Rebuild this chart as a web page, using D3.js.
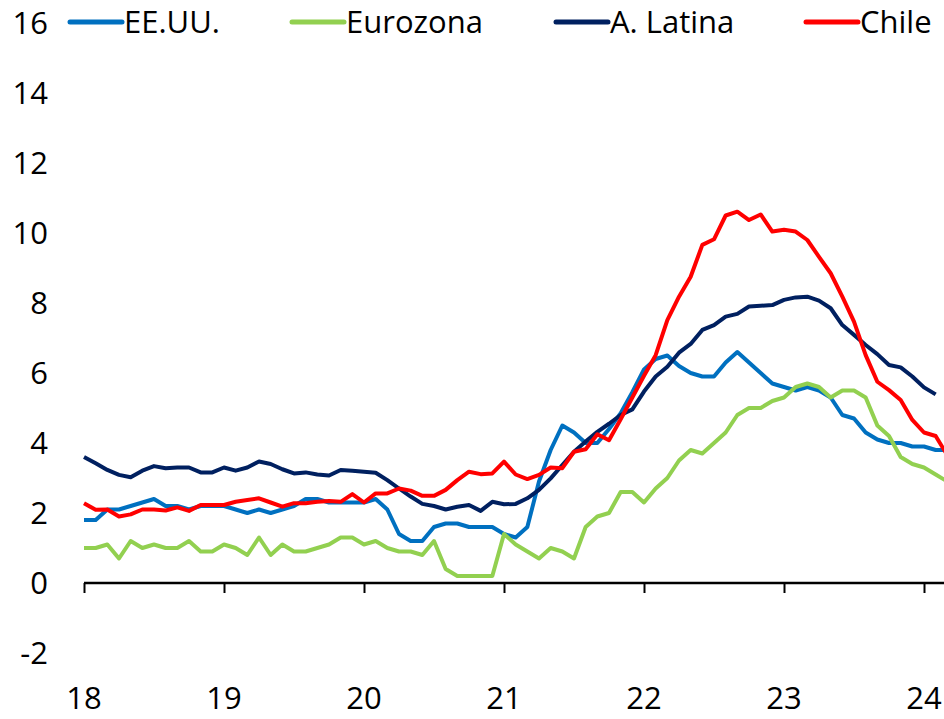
<!DOCTYPE html>
<html>
<head>
<meta charset="utf-8">
<script src="https://cdn.jsdelivr.net/npm/d3@7"></script>
<style>
  body { margin: 0; background: #fff; }
  svg text { font-family: "Open Sans", "Noto Sans", sans-serif; fill: #000; }
</style>
</head>
<body>
<div id="chart"></div>
<script>
// monthly, Jan 2018 = month 0
var yearLabels = ["18", "19", "20", "21", "22", "23", "24"];
var yTicks = [-2, 0, 2, 4, 6, 8, 10, 12, 14, 16];

var eeuu = [
  1.8, 1.8, 2.1, 2.1, 2.2, 2.3, 2.4, 2.2, 2.2, 2.1, 2.2, 2.2,
  2.2, 2.1, 2.0, 2.1, 2.0, 2.1, 2.2, 2.4, 2.4, 2.3, 2.3, 2.3,
  2.3, 2.4, 2.1, 1.4, 1.2, 1.2, 1.6, 1.7, 1.7, 1.6, 1.6, 1.6,
  1.4, 1.3, 1.6, 2.9, 3.8, 4.5, 4.3, 4.0, 4.0, 4.4, 4.85, 5.45,
  6.1, 6.4, 6.5, 6.2, 6.0, 5.9, 5.9, 6.3, 6.6, 6.3, 6.0, 5.7,
  5.6, 5.5, 5.6, 5.5, 5.3, 4.8, 4.7, 4.3, 4.1, 4.0, 4.0, 3.9,
  3.9, 3.8, 3.8
];
var eurozona = [
  1.0, 1.0, 1.1, 0.7, 1.2, 1.0, 1.1, 1.0, 1.0, 1.2, 0.9, 0.9,
  1.1, 1.0, 0.8, 1.3, 0.8, 1.1, 0.9, 0.9, 1.0, 1.1, 1.3, 1.3,
  1.1, 1.2, 1.0, 0.9, 0.9, 0.8, 1.2, 0.4, 0.2, 0.2, 0.2, 0.2,
  1.4, 1.1, 0.9, 0.7, 1.0, 0.9, 0.7, 1.6, 1.9, 2.0, 2.6, 2.6,
  2.3, 2.7, 3.0, 3.5, 3.8, 3.7, 4.0, 4.3, 4.8, 5.0, 5.0, 5.2,
  5.3, 5.6, 5.7, 5.6, 5.3, 5.5, 5.5, 5.3, 4.5, 4.2, 3.6, 3.4,
  3.3, 3.1, 2.9
];
var latina = [
  3.6, 3.42, 3.23, 3.09, 3.02, 3.21, 3.34, 3.28, 3.3, 3.3, 3.16, 3.16,
  3.3, 3.21, 3.3, 3.47, 3.4, 3.25, 3.13, 3.16, 3.1, 3.07, 3.23, 3.21,
  3.18, 3.15, 2.94, 2.7, 2.47, 2.26, 2.2, 2.1, 2.18, 2.23, 2.06, 2.32,
  2.25, 2.26, 2.42, 2.66, 2.99, 3.37, 3.75, 4.04, 4.32, 4.55, 4.8, 4.96,
  5.47, 5.9, 6.18, 6.58, 6.83, 7.23, 7.37, 7.61, 7.69, 7.9, 7.92, 7.94,
  8.09, 8.16, 8.18, 8.07, 7.85, 7.37, 7.09, 6.8, 6.54, 6.23, 6.16, 5.9,
  5.59, 5.39
];
var chile = [
  2.28, 2.09, 2.1, 1.9, 1.96, 2.1, 2.1, 2.07, 2.16, 2.06, 2.23, 2.23,
  2.23, 2.32, 2.37, 2.42, 2.3, 2.18, 2.28, 2.28, 2.32, 2.34, 2.32, 2.54,
  2.3, 2.56, 2.56, 2.7, 2.64, 2.49, 2.49, 2.66, 2.94, 3.18, 3.11, 3.13,
  3.47, 3.1, 2.97, 3.09, 3.3, 3.28, 3.75, 3.82, 4.25, 4.08, 4.68, 5.3,
  5.92, 6.51, 7.51, 8.18, 8.75, 9.66, 9.82, 10.5, 10.61, 10.37, 10.53, 10.04,
  10.09, 10.04, 9.8, 9.32, 8.85, 8.18, 7.47, 6.51, 5.75, 5.51, 5.23, 4.66,
  4.3, 4.2, 3.65
];

var seriesNames = ["EE.UU.", "Eurozona", "A. Latina", "Chile"];
var seriesColors = ["#0070C0", "#92D050", "#002060", "#FF0000"];
var seriesData = [eeuu, eurozona, latina, chile];

var width = 944, height = 719;

var svg = d3.select("#chart").append("svg")
  .attr("width", width)
  .attr("height", height);

var x = d3.scaleLinear().domain([0, 72]).range([84, 924]);
var y = d3.scaleLinear().domain([-2, 16]).range([653, 23]);

// y labels (no axis line)
svg.append("g").selectAll("text")
  .data(yTicks)
  .enter().append("text")
  .attr("x", 48)
  .attr("y", function(d){ return y(d) + 11; })
  .attr("text-anchor", "end")
  .style("font-size", "31px")
  .text(function(d){ return d; });

// x axis on zero
var xAxis = d3.axisBottom(x)
  .tickValues([0, 12, 24, 36, 48, 60, 72])
  .tickSize(10)
  .tickFormat("");

var gx = svg.append("g")
  .attr("transform", "translate(0," + y(0) + ")")
  .call(xAxis);
gx.select(".domain").remove();
gx.selectAll("line").attr("stroke", "#000").attr("stroke-width", 2);
gx.append("line")
  .attr("x1", 84).attr("x2", width)
  .attr("stroke", "#000").attr("stroke-width", 2.5);

svg.append("g").selectAll("text")
  .data(yearLabels)
  .enter().append("text")
  .attr("x", function(d, i){ return x(i * 12); })
  .attr("y", 709)
  .attr("text-anchor", "middle")
  .style("font-size", "31px")
  .text(function(d){ return d; });

var line = d3.line()
  .x(function(d, i){ return x(i); })
  .y(function(d){ return y(d); });

seriesData.forEach(function(s, k){
  svg.append("path")
    .datum(s)
    .attr("fill", "none")
    .attr("stroke", seriesColors[k])
    .attr("stroke-width", 4)
    .attr("stroke-linejoin", "round")
    .attr("d", line);
});

// legend
var legendX = [70, 292, 556, 806];
var legend = svg.append("g").selectAll("g")
  .data(seriesNames)
  .enter().append("g")
  .attr("transform", function(d, i){ return "translate(" + legendX[i] + ",22)"; });

legend.append("line")
  .attr("x1", 0).attr("x2", 52)
  .attr("stroke", function(d, i){ return seriesColors[i]; })
  .attr("stroke-width", 5)
  .attr("stroke-linecap", "round");

legend.append("text")
  .attr("x", 54)
  .attr("y", 11)
  .style("font-size", "31px")
  .text(function(d){ return d; });
</script>
</body>
</html>
